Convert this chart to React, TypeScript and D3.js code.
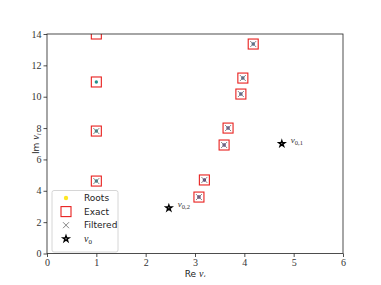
import React, { useEffect, useRef } from 'react';
import * as d3 from 'd3';

// exact roots (squares)
const exactRe = [1, 1, 1, 1, 3.08, 3.19, 3.59, 3.67, 3.93, 3.97, 4.18];
const exactIm = [14.0, 10.94, 7.81, 4.62, 3.6, 4.69, 6.92, 8.0, 10.17, 11.19, 13.36];
// computed roots (dots) with colour value
const rootRe = [1, 1, 1, 3.08, 3.19, 3.59, 3.67, 3.93, 3.97, 4.18];
const rootIm = [10.94, 7.81, 4.62, 3.6, 4.69, 6.92, 8.0, 10.17, 11.19, 13.36];
const rootC = [0.5, 0.48, 0.45, 0.05, 0.08, 0.12, 0.14, 0.22, 0.28, 0.3];
// filtered roots (crosses)
const filtRe = [1, 1, 3.08, 3.19, 3.59, 3.67, 3.93, 3.97, 4.18];
const filtIm = [7.81, 4.62, 3.6, 4.69, 6.92, 8.0, 10.17, 11.19, 13.36];
// starting points
const nu0Re = [4.76, 2.47];
const nu0Im = [7.0, 2.9];
const nu0Labels = ['0,1', '0,2'];

const xTicks = [0, 1, 2, 3, 4, 5, 6];
const yTicks = [0, 2, 4, 6, 8, 10, 12, 14];
const legendItems = ['Roots', 'Exact', 'Filtered', 'nu0'];

const W = 381;
const H = 285;
const margin = { top: 34, right: 38, bottom: 31.5, left: 47 };

const starPath = d3.symbol(d3.symbolStar, 11)() as string;

const App: React.FC = () => {
  const svgRef = useRef<SVGSVGElement>(null);

  useEffect(() => {
    if (!svgRef.current) return;
    const svg = d3.select(svgRef.current);
    svg.selectAll('*').remove();

    const innerWidth = W - margin.left - margin.right;
    const innerHeight = H - margin.top - margin.bottom;

    const x = d3.scaleLinear().domain([0, 6]).range([0, innerWidth]);
    const y = d3.scaleLinear().domain([0, 14]).range([innerHeight, 0]);

    svg.append('defs').append('clipPath').attr('id', 'plotclip')
      .append('rect').attr('width', innerWidth).attr('height', innerHeight);

    const g = svg.append('g').attr('transform', `translate(${margin.left},${margin.top})`);
    const serif = "'Liberation Serif', 'DejaVu Serif', serif";
    const sans = "'DejaVu Sans', sans-serif";

    // axes
    const xAxis = g.append('g').attr('transform', `translate(0,${innerHeight})`)
      .call(d3.axisBottom(x).tickValues(xTicks).tickSize(3.5).tickPadding(2).tickFormat(d3.format('d')));
    const yAxis = g.append('g')
      .call(d3.axisLeft(y).tickValues(yTicks).tickSize(3.5).tickPadding(2).tickFormat(d3.format('d')));
    [xAxis, yAxis].forEach((a) => {
      a.select('.domain').remove();
      a.attr('font-family', serif).attr('font-size', 10);
      a.selectAll('line').attr('stroke', '#222').attr('stroke-width', 0.8);
      a.selectAll('text').attr('fill', '#333');
    });

    const plot = g.append('g').attr('clip-path', 'url(#plotclip)');

    // exact squares
    plot.selectAll('.exact').data(exactRe).enter().append('rect')
      .attr('x', (d) => x(d) - 5).attr('y', (d, i) => y(exactIm[i]) - 5)
      .attr('width', 10).attr('height', 10)
      .attr('fill', 'none').attr('stroke', '#e8201e').attr('stroke-width', 1.1);

    // roots dots
    plot.selectAll('.root').data(rootRe).enter().append('circle')
      .attr('cx', (d) => x(d)).attr('cy', (d, i) => y(rootIm[i]))
      .attr('r', 1.7).attr('fill', (d, i) => d3.interpolateViridis(rootC[i]));

    // filtered crosses
    plot.selectAll('.filt').data(filtRe).enter().append('path')
      .attr('transform', (d, i) => `translate(${x(d)},${y(filtIm[i])})`)
      .attr('d', 'M-3,-3L3,3M-3,3L3,-3')
      .attr('stroke', '#777').attr('stroke-width', 0.9).attr('fill', 'none');

    // nu0 stars
    plot.selectAll('.nu0').data(nu0Re).enter().append('path')
      .attr('transform', (d, i) => `translate(${x(d)},${y(nu0Im[i])})`)
      .attr('d', starPath).attr('fill', 'white').attr('stroke', 'black').attr('stroke-width', 1.4);

    nu0Re.forEach((d, i) => {
      const t = g.append('text').attr('x', x(d) + 9).attr('y', y(nu0Im[i]) - 1)
        .attr('font-family', serif).attr('font-size', 9).attr('fill', '#333');
      t.append('tspan').attr('font-style', 'italic').text('ν');
      t.append('tspan').attr('font-size', 6.5).attr('dy', 2).text(nu0Labels[i]);
    });

    // frame
    g.append('rect').attr('width', innerWidth).attr('height', innerHeight)
      .attr('fill', 'none').attr('stroke', '#222').attr('stroke-width', 0.8);

    // axis labels
    const xl = svg.append('text').attr('x', margin.left + innerWidth / 2).attr('y', 277)
      .attr('text-anchor', 'middle').attr('font-family', sans).attr('font-size', 9).attr('fill', '#222');
    xl.append('tspan').text('Re ');
    xl.append('tspan').attr('font-family', serif).attr('font-style', 'italic').attr('font-size', 10).text('ν');
    xl.append('tspan').attr('font-family', serif).attr('font-style', 'italic').attr('font-size', 7).attr('dy', 2).text('i');

    const yl = svg.append('text').attr('transform', `translate(39,${margin.top + innerHeight / 2}) rotate(-90)`)
      .attr('text-anchor', 'middle').attr('font-family', sans).attr('font-size', 9).attr('fill', '#222');
    yl.append('tspan').text('Im ');
    yl.append('tspan').attr('font-family', serif).attr('font-style', 'italic').attr('font-size', 10).text('ν');
    yl.append('tspan').attr('font-family', serif).attr('font-style', 'italic').attr('font-size', 7).attr('dy', 2).text('i');

    // legend
    const lg = svg.append('g').attr('transform', 'translate(52,190.5)');
    lg.append('rect').attr('width', 66).attr('height', 61.5).attr('rx', 2)
      .attr('fill', 'white').attr('fill-opacity', 0.8).attr('stroke', '#ccc').attr('stroke-width', 0.8);
    legendItems.forEach((item, i) => {
      const cy = 7.5 + i * 13.6;
      const mx = 14;
      if (item === 'Roots') {
        lg.append('circle').attr('cx', mx).attr('cy', cy).attr('r', 2.2).attr('fill', '#fde725');
      } else if (item === 'Exact') {
        lg.append('rect').attr('x', mx - 5).attr('y', cy - 5).attr('width', 10).attr('height', 10)
          .attr('fill', 'none').attr('stroke', '#e8201e').attr('stroke-width', 1.1);
      } else if (item === 'Filtered') {
        lg.append('path').attr('transform', `translate(${mx},${cy})`).attr('d', 'M-3,-3L3,3M-3,3L3,-3')
          .attr('stroke', '#777').attr('stroke-width', 0.9);
      } else {
        lg.append('path').attr('transform', `translate(${mx},${cy})`).attr('d', starPath)
          .attr('fill', 'white').attr('stroke', 'black').attr('stroke-width', 1.4);
      }
      const t = lg.append('text').attr('x', 32).attr('y', cy + 3.2)
        .attr('font-family', sans).attr('font-size', 9).attr('fill', '#222');
      if (item === 'nu0') {
        t.append('tspan').attr('font-family', serif).attr('font-style', 'italic').attr('font-size', 10).text('ν');
        t.append('tspan').attr('font-family', serif).attr('font-size', 7).attr('dy', 2).text('0');
      } else {
        t.text(item);
      }
    });
  }, []);

  return (
    <div style={{ margin: -8 }}>
      <svg ref={svgRef} width={W} height={H} style={{ display: 'block', background: 'white' }} />
    </div>
  );
};

export default App;
